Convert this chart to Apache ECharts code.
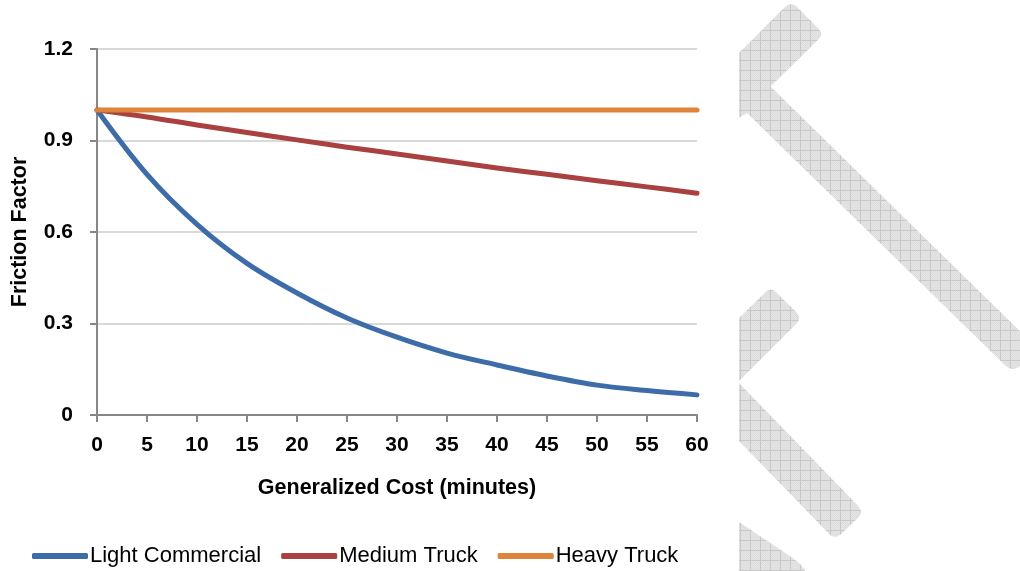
<!DOCTYPE html>
<html>
<head>
<meta charset="utf-8">
<title>Friction Factor</title>
<script src="https://cdn.jsdelivr.net/npm/echarts@6/dist/echarts.min.js"></script>
<style>
  html, body { margin: 0; padding: 0; background: #ffffff; }
  #chart { width: 1020px; height: 571px; }
</style>
</head>
<body>
<div id="chart"></div>
<script>
// Generalized cost in minutes (x axis)
const costMinutes = [0, 5, 10, 15, 20, 25, 30, 35, 40, 45, 50, 55, 60];

// Friction factor by vehicle class
const lightCommercial = [1.0, 0.789, 0.625, 0.497, 0.400, 0.318, 0.255, 0.203, 0.164, 0.128, 0.098, 0.080, 0.066];
const mediumTruck     = [1.0, 0.977, 0.951, 0.926, 0.902, 0.878, 0.856, 0.833, 0.810, 0.789, 0.768, 0.748, 0.727];
const heavyTruck      = [1.0, 1.0, 1.0, 1.0, 1.0, 1.0, 1.0, 1.0, 1.0, 1.0, 1.0, 1.0, 1.0];

const seriesNames = ['Light Commercial', 'Medium Truck', 'Heavy Truck'];
const yTicks = [0, 0.3, 0.6, 0.9, 1.2];

const FONT = "'Liberation Sans Narrow', 'Arial Narrow', 'Liberation Sans', Arial, sans-serif";
const COLORS = ['#3e6ca8', '#a8413f', '#df833a'];

function pairs(xs, ys) { return xs.map((x, i) => [x, ys[i]]); }

// Cross-hatched fill used by the decorative bands on the right
function hatchPattern() {
  const c = document.createElement('canvas');
  c.width = 10; c.height = 10;
  const g = c.getContext('2d');
  for (let y = 0; y < 10; y++) {
    for (let x = 0; x < 10; x++) {
      g.fillStyle = ((x + y) % 2 === 0) ? '#dddddd' : '#e5e5e5';
      g.fillRect(x, y, 1, 1);
    }
  }
  g.fillStyle = '#c8c8c8';
  g.fillRect(0, 0, 10, 1);
  g.fillRect(0, 0, 1, 10);
  return { image: c, repeat: 'repeat' };
}

// Polygon outline with the listed corners rounded off (quadratic arcs sampled to points)
function roundedOutline(pts, radii) {
  const n = pts.length;
  const out = [];
  for (let i = 0; i < n; i++) {
    const p = pts[i], r = radii[i] || 0;
    if (r <= 0) { out.push(p); continue; }
    const a = pts[(i - 1 + n) % n], b = pts[(i + 1) % n];
    const la = Math.hypot(a[0] - p[0], a[1] - p[1]);
    const lb = Math.hypot(b[0] - p[0], b[1] - p[1]);
    const p1 = [p[0] + (a[0] - p[0]) * r / la, p[1] + (a[1] - p[1]) * r / la];
    const p2 = [p[0] + (b[0] - p[0]) * r / lb, p[1] + (b[1] - p[1]) * r / lb];
    for (let k = 0; k <= 8; k++) {
      const t = k / 8, u = 1 - t;
      out.push([
        u * u * p1[0] + 2 * u * t * p[0] + t * t * p2[0],
        u * u * p1[1] + 2 * u * t * p[1] + t * t * p2[1]
      ]);
    }
  }
  return out;
}

const hatch = hatchPattern();
const bands = [
  { pts: [[739, 53], [791, 1], [824, 34], [770.5, 86.5], [1040, 351], [1012, 372], [747, 113], [739, 118]],
    radii: [0, 9, 9, 0, 0, 9, 0, 0] },
  { pts: [[739, 318], [771, 287], [802, 318], [739, 381], [739, 383], [864, 512], [835, 540], [739, 441]],
    radii: [0, 8, 8, 0, 0, 9, 9, 0] },
  { pts: [[739, 522], [800, 563], [808, 575], [739, 575]],
    radii: [0, 8, 0, 0] }
];

const chart = echarts.init(document.getElementById('chart'), null, { renderer: 'canvas' });

chart.setOption({
  backgroundColor: '#ffffff',
  animation: false,
  textStyle: { fontFamily: FONT },
  graphic: bands.map(b => ({
    type: 'polygon',
    silent: true,
    z: -10,
    shape: { points: roundedOutline(b.pts, b.radii) },
    style: { fill: hatch, stroke: null }
  })),
  grid: { left: 97, top: 49, width: 600, height: 366, containLabel: false, outerBoundsMode: 'none' },
  legend: {
    data: seriesNames,
    left: 32,
    top: 545,
    padding: 0,
    itemGap: 20,
    itemWidth: 56,
    itemHeight: 6,
    icon: 'roundRect',
    textStyle: { fontFamily: FONT, fontSize: 22, color: '#000000', padding: [0, 0, 0, -3] }
  },
  xAxis: {
    type: 'value',
    min: 0,
    max: 60,
    interval: 5,
    name: 'Generalized Cost (minutes)',
    nameLocation: 'middle',
    nameGap: 62,
    nameTextStyle: { fontFamily: FONT, fontSize: 21.5, fontWeight: 'bold', color: '#000000' },
    axisLine: { show: true, onZero: false, lineStyle: { color: '#878787', width: 2 } },
    axisTick: { show: true, length: 7, inside: false, lineStyle: { color: '#878787', width: 2 } },
    axisLabel: { margin: 20, fontFamily: FONT, fontSize: 21, fontWeight: 'bold', color: '#000000' },
    splitLine: { show: false }
  },
  yAxis: {
    type: 'value',
    min: yTicks[0],
    max: yTicks[yTicks.length - 1],
    interval: 0.3,
    name: 'Friction Factor',
    nameLocation: 'middle',
    nameGap: 66,
    nameTextStyle: { fontFamily: FONT, fontSize: 21.5, fontWeight: 'bold', color: '#000000' },
    axisLine: { show: true, lineStyle: { color: '#878787', width: 2 } },
    axisTick: { show: true, length: 7, inside: false, lineStyle: { color: '#878787', width: 2 } },
    axisLabel: {
      margin: 24, fontFamily: FONT, fontSize: 21, fontWeight: 'bold', color: '#000000',
      formatter: v => String(Math.round(v * 10) / 10)
    },
    splitLine: { show: true, lineStyle: { color: '#d9d9d9', width: 2 } }
  },
  series: [
    { name: seriesNames[0], data: pairs(costMinutes, lightCommercial) },
    { name: seriesNames[1], data: pairs(costMinutes, mediumTruck) },
    { name: seriesNames[2], data: pairs(costMinutes, heavyTruck) }
  ].map((s, i) => Object.assign(s, {
    type: 'line',
    smooth: 0.35,
    showSymbol: false,
    symbol: 'none',
    color: COLORS[i],
    lineStyle: { color: COLORS[i], width: 5, cap: 'round', join: 'round' }
  }))
});
</script>
</body>
</html>
